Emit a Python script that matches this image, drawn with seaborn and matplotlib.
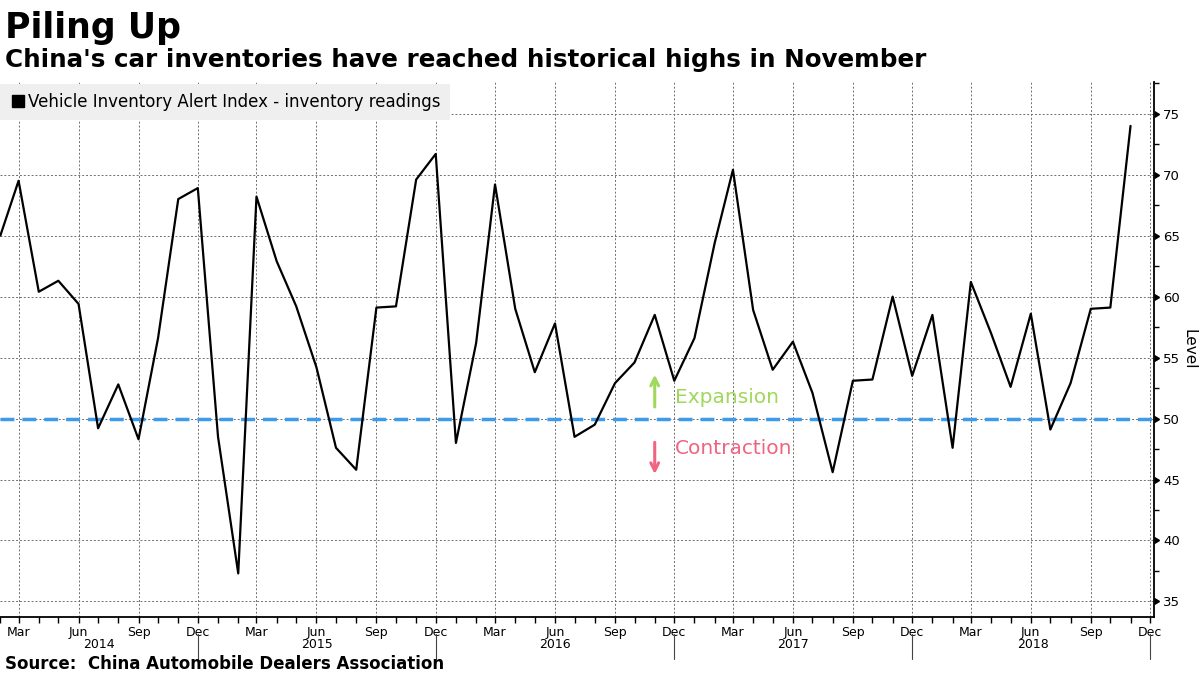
import matplotlib
matplotlib.use("Agg")
import matplotlib.pyplot as plt
import matplotlib.dates as mdates
from matplotlib import markers
from matplotlib.lines import Line2D
import numpy as np
import pandas as pd
import seaborn as sns

# ---------------- data ----------------
start_month = "2014-02-01"
inventory_index = [
    65.0, 69.5, 60.4, 61.3, 59.4, 49.2, 52.8, 48.3, 56.6, 68.0, 68.9,          # 2014 Feb-Dec
    48.5, 37.3, 68.2, 62.9, 59.2, 54.2, 47.6, 45.8, 59.1, 59.2, 69.6, 71.7,    # 2015
    48.0, 56.2, 69.2, 59.0, 53.8, 57.8, 48.5, 49.5, 52.9, 54.6, 58.5, 53.1,    # 2016
    56.6, 64.4, 70.4, 58.9, 54.0, 56.3, 52.1, 45.6, 53.1, 53.2, 60.0, 53.5,    # 2017
    58.5, 47.6, 61.2, 57.0, 52.6, 58.6, 49.1, 52.9, 59.0, 59.1, 74.0,          # 2018 Jan-Nov
]
threshold = 50
quarter_month_labels = ["Mar", "Jun", "Sep", "Dec"]
year_labels = ["2014", "2015", "2016", "2017", "2018"]
y_ticks = [35, 40, 45, 50, 55, 60, 65, 70, 75]
legend_label = "Vehicle Inventory Alert Index - inventory readings"
title = "Piling Up"
subtitle = "China's car inventories have reached historical highs in November"
source = "Source:  China Automobile Dealers Association"

df = pd.DataFrame({
    "date": pd.date_range(start_month, periods=len(inventory_index), freq="MS"),
    "value": inventory_index,
})

# ---------------- style ----------------
sns.set_style("white")
plt.rcParams["font.family"] = ["DejaVu Sans"]
plt.rcParams["text.color"] = "black"
plt.rcParams["axes.labelcolor"] = "black"
plt.rcParams["xtick.color"] = "black"
plt.rcParams["ytick.color"] = "black"

W, H = 1200, 675
fig = plt.figure(figsize=(12, 6.75), dpi=100)
ax_top_px, ax_bot_px, ax_right_px = 82, 617.3, 1154
ax_h_px = ax_bot_px - ax_top_px
ax = fig.add_axes([0, 1 - ax_bot_px / H, ax_right_px / W, ax_h_px / H])

sns.lineplot(data=df, x="date", y="value", ax=ax, color="black",
             linewidth=1.6, label=legend_label, zorder=3)
ax.axhline(threshold, color="#3d9be9", lw=2.5, dashes=(4, 2.3), zorder=2)

# limits
x_left = pd.Timestamp("2014-01-31 12:00")
x_right = pd.Timestamp("2018-12-07")
ax.set_xlim(x_left, x_right)
ax.set_ylim(33.7, 77.6)

# x ticks
quarter_ticks = pd.date_range("2014-03-01", "2018-12-01", freq="3MS")
ax.set_xticks(quarter_ticks)
ax.set_xticklabels([quarter_month_labels[i % 4] for i in range(len(quarter_ticks))])
ax.xaxis.set_minor_locator(mdates.MonthLocator())
ax.tick_params(axis="x", which="both", direction="out", length=4, width=1,
               color="black", labelcolor="black", labelsize=9, pad=2, bottom=True)

# y axis on right
ax.yaxis.tick_right()
ax.yaxis.set_label_position("right")
ax.set_yticks(y_ticks)
ax.set_yticks(np.arange(37.5, 78, 5), minor=True)
ax.tick_params(axis="y", which="major", right=True, left=False, length=5,
               width=1, color="black", labelcolor="black", labelsize=9.5, pad=1.5)
ax.tick_params(axis="y", which="minor", right=True, left=False, length=3.5,
               width=1, color="black")
for t in ax.yaxis.get_major_ticks():
    t.tick2line.set_marker(markers.CARETRIGHTBASE)

ax.set_xlabel("")
ax.set_ylabel("Level", rotation=270, va="bottom", fontsize=11, labelpad=1,
              color="black")

# grid
ax.grid(True, which="major", axis="both", color="#6f6f6f",
        linestyle=(0, (2, 2)), linewidth=0.7)
ax.set_axisbelow(True)

for s in ["left", "top"]:
    ax.spines[s].set_visible(False)
for s in ["right", "bottom"]:
    ax.spines[s].set_visible(True)
    ax.spines[s].set_color("black")
    ax.spines[s].set_linewidth(1.3)

# year labels & separators
dec_ticks = [d for d in quarter_ticks if d.month == 12]
bounds = [x_left] + dec_ticks[:-1] + [x_right]
xt = ax.get_xaxis_transform()
for i, yr in enumerate(year_labels):
    mid = bounds[i] + (bounds[i + 1] - bounds[i]) / 2
    ax.text(mid, -(645 - ax_bot_px) / ax_h_px, yr, transform=xt,
            ha="center", va="center", fontsize=9, color="black")
for d in dec_ticks:
    ax.plot([d, d], [-(634 - ax_bot_px) / ax_h_px, -(659 - ax_bot_px) / ax_h_px],
            transform=xt, clip_on=False, color="#444444", lw=0.8)
ax.set_xlim(x_left, x_right)

# legend
handle = Line2D([], [], marker="s", linestyle="none", color="black", markersize=8)
leg = ax.legend(handles=[handle], labels=[legend_label], loc="upper left",
                bbox_to_anchor=(0, 1 - 2 / ax_h_px), borderaxespad=0,
                frameon=True, fancybox=False, facecolor="#efefef",
                edgecolor="none", framealpha=1, fontsize=12, borderpad=0.55,
                handlelength=1.0, handletextpad=0.15, labelcolor="black")

# annotations
green = "#9fd85a"
pink = "#ef6480"
arrow_x = pd.Timestamp("2016-11-01")
text_x = pd.Timestamp("2016-12-02")
ax.annotate("", xy=(arrow_x, 53.6), xytext=(arrow_x, 50.95),
            arrowprops=dict(arrowstyle="->", color=green, lw=2.2,
                            mutation_scale=14, shrinkA=0, shrinkB=0))
ax.annotate("", xy=(arrow_x, 45.45), xytext=(arrow_x, 48.05),
            arrowprops=dict(arrowstyle="->", color=pink, lw=2.2,
                            mutation_scale=14, shrinkA=0, shrinkB=0))
ax.text(text_x, 51.25, "Expansion", color=green, fontsize=14.5,
        ha="left", va="baseline")
ax.text(text_x, 47.07, "Contraction", color=pink, fontsize=14.5,
        ha="left", va="baseline")

# titles
fig.text(5 / W, 1 - 37.7 / H, title, fontsize=25, fontweight="bold",
         ha="left", va="baseline", color="black")
fig.text(5 / W, 1 - 66.7 / H, subtitle, fontsize=17.7, fontweight="bold",
         ha="left", va="baseline", color="black")
fig.text(5 / W, 1 - 669 / H, source, fontsize=12, fontweight="bold",
         ha="left", va="baseline", color="black")

fig.savefig("out.png", dpi=100)
